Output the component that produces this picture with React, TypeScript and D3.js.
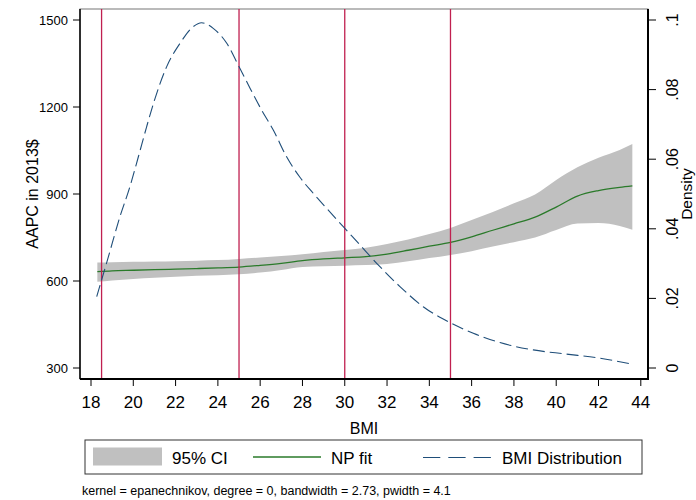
import React from "react";
import * as d3 from "d3";

// NP fit of annual per-capita cost on BMI, with its 95% band
const fitBmi = [18.3, 19, 20, 21, 22, 23, 24, 25, 26, 27, 28, 29, 30, 31, 32, 33, 34, 35, 36, 37, 38, 39, 40, 41, 42, 43, 43.6];
const fitValue = [632, 635, 637, 639, 641, 643, 645, 648, 654, 661, 670, 676, 680, 684, 693, 706, 720, 733, 752, 775, 797, 820, 855, 893, 912, 923, 928];
const ciUpper = [664, 665, 666, 667, 668, 670, 672, 676, 681, 686, 692, 700, 707, 715, 728, 743, 762, 783, 810, 838, 868, 898, 948, 992, 1025, 1052, 1072];
const ciLower = [597, 602, 607, 611, 615, 618, 620, 623, 629, 638, 648, 651, 653, 655, 659, 668, 679, 690, 703, 719, 734, 750, 776, 798, 800, 790, 777];

// Kernel density of BMI (right axis)
const densBmi = [18.27, 18.8, 19.37, 19.84, 20.24, 20.63, 21.03, 21.58, 22.21, 22.84, 23.23, 23.78, 24.42, 24.96, 25.52, 26.07, 26.62, 27.25, 27.88, 28.51, 29.2, 29.93, 30.7, 31.51, 32.61, 33.71, 34.89, 36.08, 37.34, 38.91, 40.49, 42.07, 43.6];
const densValue = [0.0205, 0.0315, 0.0435, 0.0521, 0.0607, 0.0693, 0.0775, 0.0866, 0.0933, 0.0981, 0.0992, 0.0976, 0.0933, 0.0871, 0.0804, 0.0741, 0.0684, 0.0607, 0.0548, 0.0502, 0.0455, 0.0406, 0.0355, 0.0301, 0.0234, 0.0176, 0.0133, 0.01, 0.0073, 0.0052, 0.004, 0.0028, 0.0011];

// BMI category cut points
const cutPoints = [18.5, 25, 30, 35];

const xTicks = [18, 20, 22, 24, 26, 28, 30, 32, 34, 36, 38, 40, 42, 44];
const leftTicks = [300, 600, 900, 1200, 1500];
const rightTicks = [0, 0.02, 0.04, 0.06, 0.08, 0.1];
const rightTickLabels = ["0", ".02", ".04", ".06", ".08", ".1"];

const legendLabels = ["95% CI", "NP fit", "BMI Distribution"];
const noteText = "kernel = epanechnikov, degree = 0, bandwidth = 2.73, pwidth = 4.1";

const FONT = "'Liberation Sans', Arial, sans-serif";
const CI_FILL = "#c0c0c0";
const FIT_COLOR = "#2a7a2a";
const DENS_COLOR = "#1f4e79";
const CUT_COLOR = "#c02050";

export default function App() {
  const left = 80, right = 648, top = 9, bottom = 379;

  const x = d3.scaleLinear().domain([18, 44]).range([91, 640.8]);
  const yL = d3.scaleLinear().domain([300, 1500]).range([368, 20]);
  const yR = d3.scaleLinear().domain([0, 0.1]).range([368, 20]);

  const band = d3
    .area<number>()
    .x((_, i) => x(fitBmi[i]))
    .y0((_, i) => yL(ciLower[i]))
    .y1((_, i) => yL(ciUpper[i]))
    .curve(d3.curveMonotoneX)(fitBmi);

  const fitLine = d3
    .line<number>()
    .x((_, i) => x(fitBmi[i]))
    .y((d) => yL(d))
    .curve(d3.curveMonotoneX)(fitValue);

  const densLine = d3
    .line<number>()
    .x((_, i) => x(densBmi[i]))
    .y((d) => yR(d))
    .curve(d3.curveMonotoneX)(densValue);

  const midY = (top + bottom) / 2;
  const midX = (left + right) / 2;

  return (
    <svg
      width={696}
      height={500}
      style={{ position: "absolute", left: 0, top: 0, background: "#fff" }}
      fontFamily={FONT}
    >
      <rect x={0} y={0} width={696} height={500} fill="#fff" />

      {/* plot region border */}
      <rect x={left} y={top} width={right - left} height={bottom - top} fill="none" stroke="#777" strokeWidth={1} />

      <path d={band ?? ""} fill={CI_FILL} stroke="none" />
      <path d={fitLine ?? ""} fill="none" stroke={FIT_COLOR} strokeWidth={1.3} />

      {cutPoints.map((c) => (
        <line key={c} x1={x(c)} x2={x(c)} y1={top} y2={bottom} stroke={CUT_COLOR} strokeWidth={1.3} />
      ))}

      <path d={densLine ?? ""} fill="none" stroke={DENS_COLOR} strokeWidth={1.1} strokeDasharray="12 5" />

      {/* axes */}
      <line x1={left} x2={left} y1={top} y2={bottom} stroke="#000" strokeWidth={1.5} />
      <line x1={right} x2={right} y1={top} y2={bottom} stroke="#000" strokeWidth={2} />
      <line x1={left} x2={right + 1} y1={bottom} y2={bottom} stroke="#000" strokeWidth={1.8} />

      {leftTicks.map((t) => (
        <g key={t}>
          <line x1={left - 7} x2={left} y1={yL(t)} y2={yL(t)} stroke="#000" strokeWidth={1} />
          <text x={left - 12} y={yL(t)} dy="0.36em" textAnchor="end" fontSize={13} fill="#000">
            {t}
          </text>
        </g>
      ))}

      {rightTicks.map((t, i) => (
        <g key={t}>
          <line x1={right} x2={right + 8} y1={yR(t)} y2={yR(t)} stroke="#000" strokeWidth={1} />
          <text
            transform={`translate(${right + 30},${yR(t)}) rotate(-90)`}
            textAnchor="middle"
            fontSize={16}
            fill="#000"
          >
            {rightTickLabels[i]}
          </text>
        </g>
      ))}

      {xTicks.map((t) => (
        <g key={t}>
          <line x1={x(t)} x2={x(t)} y1={bottom} y2={bottom + 7} stroke="#000" strokeWidth={1} />
          <text x={x(t)} y={bottom + 29} textAnchor="middle" fontSize={17} fill="#000">
            {t}
          </text>
        </g>
      ))}

      {/* axis titles */}
      <text x={midX} y={434} textAnchor="middle" fontSize={16} fill="#000">
        BMI
      </text>
      <text transform={`translate(38,${midY}) rotate(-90)`} textAnchor="middle" fontSize={16} fill="#000">
        AAPC in 2013$
      </text>
      <text transform={`translate(691.5,${midY}) rotate(-90)`} textAnchor="middle" fontSize={15.5} fill="#000">
        Density
      </text>

      {/* legend */}
      <rect x={85} y={440} width={557} height={34} fill="#fff" stroke="#333" strokeWidth={1} />
      <rect x={93} y={447.5} width={69} height={18} fill={CI_FILL} />
      <text x={172} y={464} fontSize={17} fill="#000">
        {legendLabels[0]}
      </text>
      <line x1={253} x2={321} y1={457} y2={457} stroke={FIT_COLOR} strokeWidth={1.3} />
      <text x={331} y={464} fontSize={17} fill="#000">
        {legendLabels[1]}
      </text>
      <line x1={423} x2={491} y1={457.5} y2={457.5} stroke={DENS_COLOR} strokeWidth={1.1} strokeDasharray="17.3 8" />
      <text x={502} y={464} fontSize={17} fill="#000">
        {legendLabels[2]}
      </text>

      <text x={82} y={495} fontSize={12.5} fill="#000">
        {noteText}
      </text>
    </svg>
  );
}
